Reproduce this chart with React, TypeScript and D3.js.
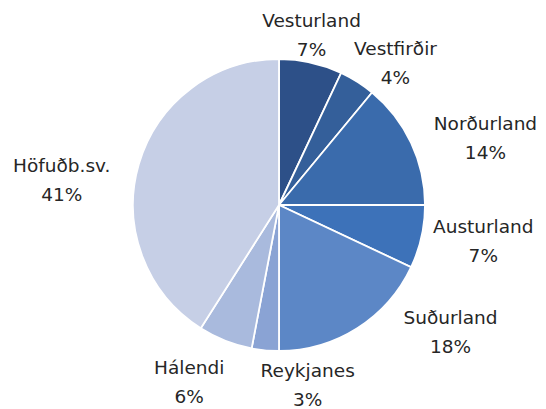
import React from 'react';
import * as d3 from 'd3';

const regions = ['Vesturland', 'Vestfirðir', 'Norðurland', 'Austurland', 'Suðurland', 'Reykjanes', 'Hálendi', 'Höfuðb.sv.'];
const shares = [7, 4, 14, 7, 18, 3, 6, 41];
const colors = ['#2d5088', '#345f9a', '#3a6bac', '#3d72b9', '#5c87c6', '#8aa3d4', '#a9badd', '#c6cfe6'];

// label layout tweaks (Excel puts labels where it likes)
const labelNudge: [number, number][] = [
  [-10, 12], [12, 15], [30, 8], [14, -15], [67, -46], [47, -22], [-18, -12], [-30, 21],
];

const width = 546;
const height = 409;
const cx = 279;
const cy = 205;
const radius = 146;

export default function App() {
  const pie = d3.pie<number>().sort(null).value((d) => d);
  const arcs = pie(shares);
  const arcGen = d3.arc<d3.PieArcDatum<number>>().innerRadius(0).outerRadius(radius);
  const labelArc = d3.arc<d3.PieArcDatum<number>>().innerRadius(195).outerRadius(195);

  return (
    <svg width={width} height={height} style={{ position: 'absolute', left: 0, top: 0, background: '#fff' }}>
      <g transform={`translate(${cx},${cy})`}>
        {arcs.map((a, i) => (
          <path key={regions[i]} d={arcGen(a) || ''} fill={colors[i]} stroke="#ffffff" strokeWidth={1.8} />
        ))}
        {arcs.map((a, i) => {
          const [x, y] = labelArc.centroid(a);
          const lx = x + labelNudge[i][0];
          const ly = y + labelNudge[i][1];
          return (
            <text key={'l' + i} x={lx} y={ly} textAnchor="middle" fontFamily="'DejaVu Sans', sans-serif" fontSize={18.5} fill="#262626">
              <tspan x={lx} dy={0}>{regions[i]}</tspan>
              <tspan x={lx} dy={29}>{shares[i]}%</tspan>
            </text>
          );
        })}
      </g>
    </svg>
  );
}
